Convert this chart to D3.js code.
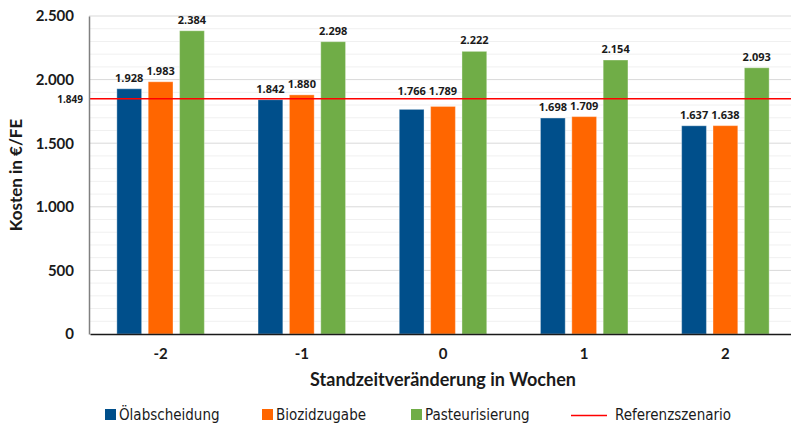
<!DOCTYPE html>
<html><head><meta charset="utf-8">
<script src="https://cdn.jsdelivr.net/npm/d3@7"></script>
<style>body{margin:0;background:#fff}svg{display:block}</style>
</head><body>
<svg id="c" width="791" height="423"></svg>
<script>
const categories = ["-2","-1","0","1","2"];
const seriesNames = ["Ölabscheidung","Biozidzugabe","Pasteurisierung"];
const oelabscheidung = [1928,1842,1766,1698,1637];
const biozidzugabe = [1983,1880,1789,1709,1638];
const pasteurisierung = [2384,2298,2222,2154,2093];
const referenz = 1849;
const referenzName = "Referenzszenario";
const yTicks = [0,500,1000,1500,2000,2500];
const yTitle = "Kosten in €/FE";
const xTitle = "Standzeitveränderung in Wochen";

const colors = ["#004f8b","#ff6600","#70ad47"];
const series = [oelabscheidung,biozidzugabe,pasteurisierung];
const fmt = v => d3.format(",")(v).replace(/,/g,".");

const svg = d3.select("#c");
const L=89, R=796, T=16, B=334;
const x = d3.scaleBand().domain(categories).range([L+1,R]);
const y = d3.scaleLinear().domain([0,2500]).range([B,T]);
const xs = d3.scaleBand().domain(d3.range(3)).range([0,87.5]).paddingInner(0.21);

// minor grid
svg.append("g").selectAll("line").data(d3.range(100,2600,100).filter(v=>v%500)).join("line")
  .attr("x1",L).attr("x2",R).attr("y1",d=>y(d)).attr("y2",d=>y(d))
  .attr("stroke","#f0f0f0").attr("stroke-width",1);
svg.append("g").selectAll("line").data(yTicks.slice(1)).join("line")
  .attr("x1",L).attr("x2",R).attr("y1",d=>y(d)).attr("y2",d=>y(d))
  .attr("stroke","#d9d9d9").attr("stroke-width",1);

// bars
categories.forEach((c,i)=>{
  const cx = x(c)+x.bandwidth()/2 - 87.5/2;
  series.forEach((s,j)=>{
    svg.append("rect").attr("x",cx+xs(j)).attr("y",y(s[i]))
      .attr("width",xs.bandwidth()).attr("height",y(0)-y(s[i]))
      .attr("fill",colors[j]).attr("stroke","#ffffff").attr("stroke-opacity",0.35).attr("stroke-width",1);
  });
});

// reference line
svg.append("line").attr("x1",L).attr("x2",R).attr("y1",y(referenz)).attr("y2",y(referenz))
  .attr("stroke","#ff0000").attr("stroke-width",1.5);

// data labels
const yr = y(referenz);
categories.forEach((c,i)=>{
  const cx = x(c)+x.bandwidth()/2 - 87.5/2;
  series.forEach((s,j)=>{
    let ly = y(s[i]) - 7;
    if (ly > yr - 3 && ly < yr + 10) ly = yr - 4;
    svg.append("text").attr("x",cx+xs(j)+xs.bandwidth()/2).attr("y",ly)
      .attr("text-anchor","middle").attr("font-family","'Open Sans',sans-serif").attr("font-weight","bold")
      .attr("font-size","11px").attr("fill","#1a1a1a").text(fmt(s[i]));
  });
});

// axes
const ya = svg.append("g").attr("transform",`translate(${L},0)`)
  .call(d3.axisLeft(y).tickValues(yTicks).tickFormat(fmt).tickSize(0).tickPadding(15));
ya.select(".domain").attr("stroke","#808080").attr("stroke-width",1.5);
ya.selectAll("text").attr("font-family","Lato, sans-serif").attr("font-weight","bold").attr("font-size","15px").attr("fill","#1a1a1a");

svg.append("text").attr("x",L-6).attr("y",yr+4).attr("text-anchor","end")
  .attr("font-family","'Open Sans',sans-serif").attr("font-weight","bold").attr("font-size","10px").attr("fill","#1a1a1a").text(fmt(referenz));

const xa = svg.append("g").attr("transform",`translate(0,${B})`)
  .call(d3.axisBottom(x).tickSize(0).tickPadding(14));
xa.select(".domain").attr("stroke","#1a1a1a").attr("stroke-width",1.5);
xa.selectAll("text").attr("font-family","Lato, sans-serif").attr("font-weight","bold").attr("font-size","15px").attr("fill","#1a1a1a");

svg.append("text").attr("x",443).attr("y",386).attr("text-anchor","middle")
  .attr("font-family","Lato, sans-serif").attr("font-weight","bold").attr("font-size","18px").attr("fill","#1a1a1a").text(xTitle);
svg.append("text").attr("transform","translate(22,175) rotate(-90)").attr("text-anchor","middle")
  .attr("font-family","Lato, sans-serif").attr("font-weight","bold").attr("font-size","17px").attr("fill","#1a1a1a").text(yTitle);

// legend
const legX = [105,262,411];
seriesNames.forEach((n,j)=>{
  svg.append("rect").attr("x",legX[j]).attr("y",409).attr("width",11).attr("height",11).attr("fill",colors[j]);
  svg.append("text").attr("x",legX[j]+14).attr("y",420).attr("font-family","'Liberation Sans Narrow','DejaVu Sans Condensed',sans-serif")
    .attr("font-size","15px").attr("fill","#1a1a1a").text(n);
});
svg.append("line").attr("x1",571).attr("x2",607).attr("y1",415.5).attr("y2",415.5).attr("stroke","#ff0000").attr("stroke-width",1.5);
svg.append("text").attr("x",615).attr("y",420).attr("font-family","'Liberation Sans Narrow','DejaVu Sans Condensed',sans-serif")
  .attr("font-size","15px").attr("fill","#1a1a1a").text(referenzName);
</script>
</body></html>
